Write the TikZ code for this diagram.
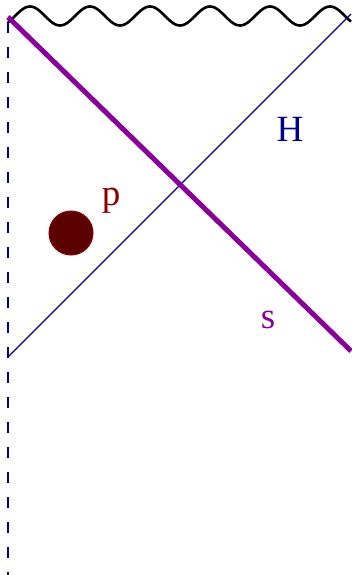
\documentclass[tikz,border=0pt]{standalone}
\usepackage{fontspec}
\setmainfont{Liberation Serif}
\usepackage{tikz}
\usetikzlibrary{positioning, calc}
\usepackage{xcolor}
\definecolor{horizonblue}{HTML}{000088}
\definecolor{shellpurple}{HTML}{880099}
\definecolor{particlered}{HTML}{5A0000}
\definecolor{labelred}{HTML}{880000}

\begin{document}
\begin{tikzpicture}[x=1pt, y=-1pt,
  lbl/.style={anchor=base, inner sep=0pt, font=\fontsize{37}{37}\selectfont}]
  \useasboundingbox (0,0) rectangle (351,575);

  % Corners of the diagram
  \coordinate (origin) at (8,17);
  \coordinate (bottom) at (8,575);
  \coordinate (hstart) at (8,357);
  \coordinate (hend) at (351,14);
  \coordinate (send) at (351,351);

  % Singularity
  \draw[line width=2.6pt, black, smooth]
    plot[domain=8:351, samples=200] (\x, {16 - 9.5*sin((\x-15)*6)});

  % Origin (dashed)
  \draw[horizonblue, line width=1.3pt, dash pattern=on 11pt off 14pt]
    (origin) ++(0,5) -- (bottom);

  % Horizon
  \draw[horizonblue, line width=1.2pt] (hstart) -- (hend);
  \node[lbl, text=horizonblue] (hlabel) at (290,142) {H};

  % Shell
  \draw[shellpurple, line width=5pt] (origin) -- (send);
  \node[lbl, text=shellpurple] (slabel) at (268,328) {s};

  % Particle
  \node[circle, minimum size=44pt, inner sep=0pt, fill=particlered,
        draw=labelred, line width=1pt] (particle) at (71,233) {};
  \node[lbl, text=labelred] (plabel) at (111,205) {p};
\end{tikzpicture}
\end{document}
